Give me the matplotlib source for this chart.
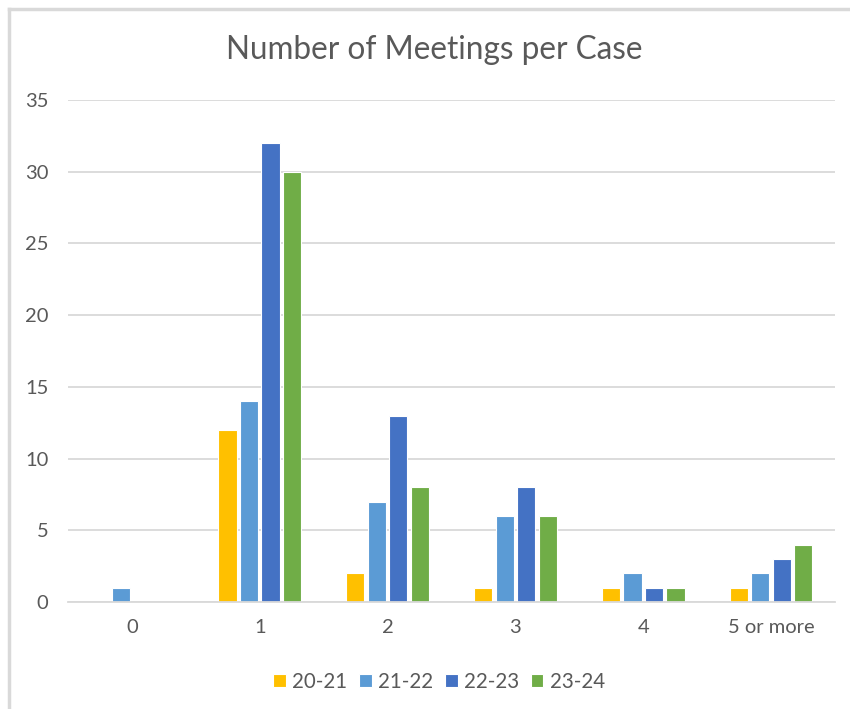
import numpy as np
import matplotlib.pyplot as plt
from matplotlib.lines import Line2D

categories = ['0', '1', '2', '3', '4', '5 or more']
series = ['20-21', '21-22', '22-23', '23-24']
v2021 = [0, 12, 2, 1, 1, 1]
v2122 = [1, 14, 7, 6, 2, 2]
v2223 = [0, 32, 13, 8, 1, 3]
v2324 = [0, 30, 8, 6, 1, 4]
values = [v2021, v2122, v2223, v2324]
colors = ['#FFC000', '#5B9BD5', '#4472C4', '#70AD47']

plt.rcParams['font.family'] = ['Lato', 'DejaVu Sans']
txt = '#595959'

fig = plt.figure(figsize=(8.5, 7.09), dpi=100)
ax = fig.add_axes([68/850, 1-602/709, (835-68)/850, (602-100)/709])

x = np.arange(len(categories))
step = 0.168
w = 0.142
for i, (name, vals) in enumerate(zip(series, values)):
	ax.bar(x + (i - 1.5)*step, vals, w, color=colors[i], label=name,
		edgecolor='white', linewidth=0.8, zorder=3)

ax.set_xlim(-0.5, len(categories) - 0.5)
ax.set_ylim(0, 35)
ax.set_yticks(range(0, 36, 5))
ax.set_xticks(x)
ax.set_xticklabels(categories)
ax.grid(axis='y', color='#D9D9D9', linewidth=1.3, zorder=0)
ax.tick_params(length=0, colors=txt, labelsize=14.5)
ax.tick_params(axis='y', pad=14)
ax.tick_params(axis='x', pad=12)
for s in ['top', 'right', 'left']:
	ax.spines[s].set_visible(False)
ax.spines['bottom'].set_color('#D9D9D9')
ax.spines['bottom'].set_linewidth(1.3)
ax.spines['bottom'].set_zorder(4)

fig.text(434/850, 1-50/709, 'Number of Meetings per Case', ha='center', va='center',
	fontsize=22.7, color=txt)

leg = fig.legend(loc='center', bbox_to_anchor=(439/850, 1-682/709), ncol=4, frameon=False,
	handlelength=0.6, handleheight=0.6, handletextpad=0.3, columnspacing=0.6,
	fontsize=14.8)
for t in leg.get_texts():
	t.set_color(txt)

# chart frame (only left and top edges visible)
fig.add_artist(Line2D([8.5/850, 8.5/850], [0, 1-8.5/709], color='#D9D9D9', linewidth=2.5))
fig.add_artist(Line2D([8.5/850, 1], [1-8.5/709, 1-8.5/709], color='#D9D9D9', linewidth=2.5))

fig.savefig('out.png', dpi=100)
